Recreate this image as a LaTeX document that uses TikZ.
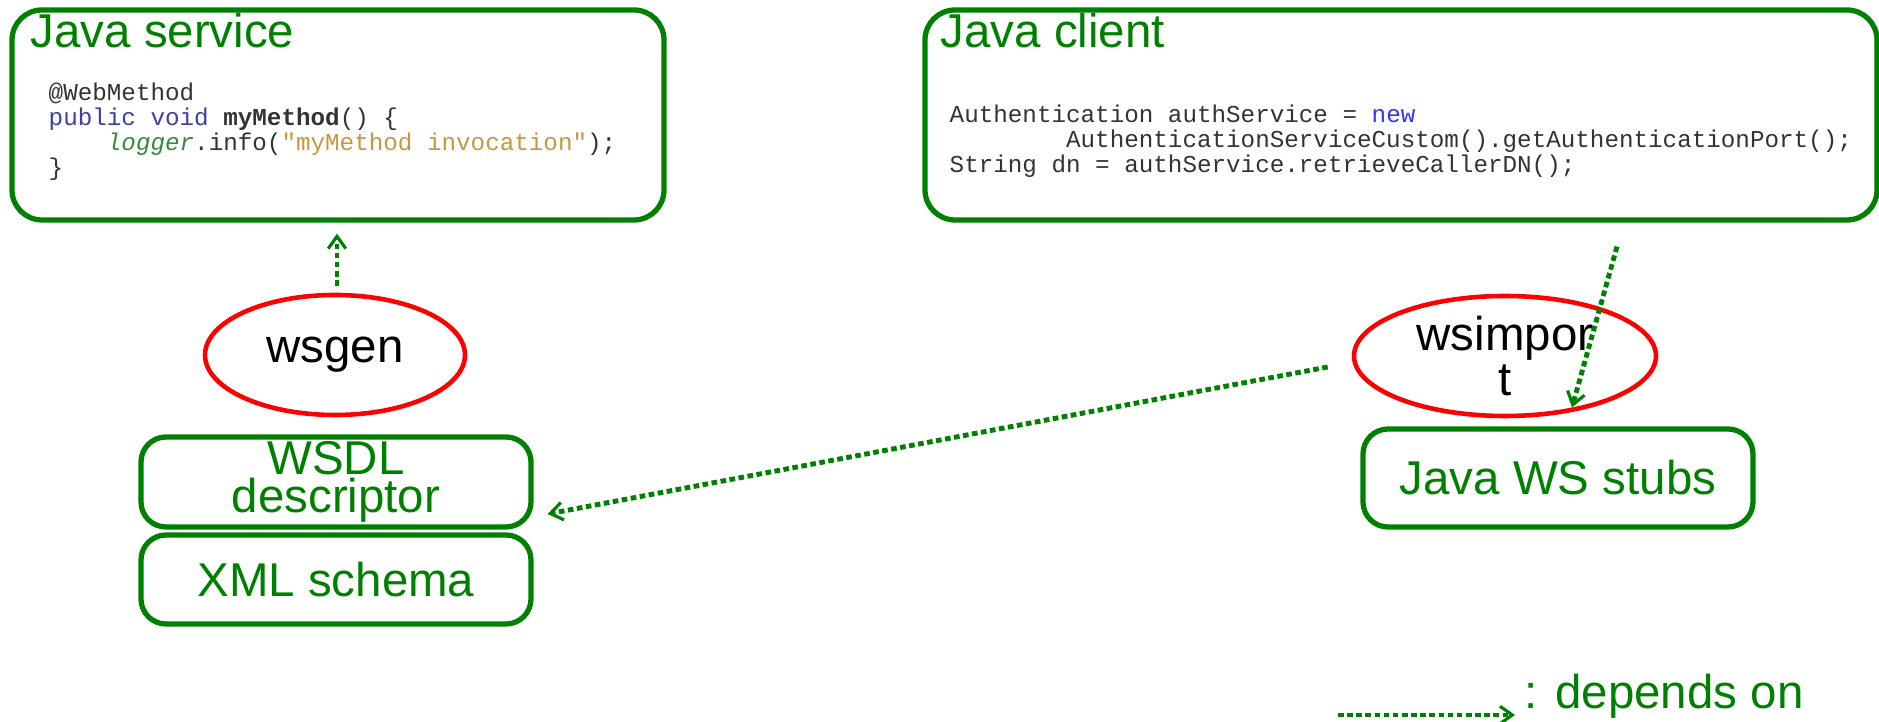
\documentclass[tikz,border=0pt]{standalone}
\usepackage{fontspec}
\setmainfont{Liberation Sans}
\setmonofont{Liberation Mono}
\usetikzlibrary{arrows.meta,shapes.geometric}
\definecolor{WSGreen}{HTML}{008000}
\definecolor{WSRed}{HTML}{FF0000}
\definecolor{WSCode}{HTML}{333333}
\definecolor{WSKey}{HTML}{3F3FA6}
\definecolor{WSNew}{HTML}{3333FF}
\definecolor{WSVar}{HTML}{3A8A3A}
\definecolor{WSStr}{HTML}{C8963E}

\begin{document}
\begin{tikzpicture}[x=1cm,y=1cm,
  panel/.style={draw=WSGreen,line width=1.5pt,rounded corners=0.3cm,inner sep=0pt},
  artbox/.style={draw=WSGreen,line width=1.5pt,rounded corners=0.25cm,text=WSGreen,
    align=center,inner sep=0pt,font=\fontsize{13.5}{9.8}\selectfont},
  toolell/.style={ellipse,draw=WSRed,line width=1.3pt,inner sep=0pt,align=center,
    font=\fontsize{13.5}{9.8}\selectfont},
  paneltitle/.style={anchor=base west,text=WSGreen,inner sep=0pt,font=\fontsize{13.5}{16}\selectfont},
  codetext/.style={anchor=north west,align=left,inner sep=0pt,text=WSCode,
    font=\ttfamily\fontsize{6.9}{7.1}\selectfont},
  dep/.style={WSGreen,line width=1.4pt,dash pattern=on 1.6pt off 1pt,
    -{Straight Barb[length=3.5pt,width=5pt,line width=0.9pt]}}]
\path[use as bounding box] (0,0) rectangle (18.79,7.22);
\node[panel,minimum width=6.52cm,minimum height=2.10cm] (svc) at (3.38,6.07) {};
\node[paneltitle] (svctitle) at (0.30,6.74) {Java service};
\node[codetext] (svccode) at (0.48,6.40) {@WebMethod\\
  {\color{WSKey}public void} \textbf{myMethod}() \{\\
  \phantom{xxxx}{\color{WSVar}\itshape logger}.info({\color{WSStr}"myMethod invocation"});\\
  \}};
\node[panel,minimum width=9.52cm,minimum height=2.10cm] (client) at (14.01,6.07) {};
\node[paneltitle] (clienttitle) at (9.40,6.74) {Java client};
\node[codetext] (clientcode) at (9.49,6.18) {Authentication authService = {\color{WSNew}new}\\
  \phantom{xxxxxxxx}AuthenticationServiceCustom().getAuthenticationPort();\\
  String dn = authService.retrieveCallerDN();};
\node[toolell,minimum width=2.60cm,minimum height=1.20cm] (wsgen) at (3.35,3.67) {wsgen};
\node[toolell,minimum width=3.02cm,minimum height=1.20cm] (wsimport) at (15.05,3.66) {wsimpor\\t};
\node[artbox,minimum width=3.90cm,minimum height=0.90cm] (wsdl) at (3.36,2.40) {WSDL\\descriptor};
\node[artbox,minimum width=3.90cm,minimum height=0.89cm] (xsd) at (3.36,1.425) {XML schema};
\node[artbox,minimum width=3.90cm,minimum height=0.98cm] (stubs) at (15.58,2.44) {Java WS stubs};
\draw[dep,shorten <=0.07cm,shorten >=0.11cm] ([xshift=0.02cm]wsgen.north) -- ([xshift=0.02cm]wsgen.north |- svc.south);
\draw[dep] ([xshift=-0.24cm,yshift=-0.11cm]wsimport.west) -- ([xshift=0.14cm,yshift=-0.32cm]wsdl.east);
\draw[dep] ([xshift=2.16cm,yshift=-0.24cm]client.south) -- ([xshift=0.14cm,yshift=0.19cm]stubs.north);
\coordinate (legstart) at (13.38,0.07);
\node[anchor=base west,inner sep=0pt,text=WSGreen,font=\fontsize{13.5}{16}\selectfont] (legend) at (15.24,0.13) {: depends on};
\draw[dep,shorten >=0.09cm] (legstart) -- (legend.west |- legstart);
\end{tikzpicture}
\end{document}
